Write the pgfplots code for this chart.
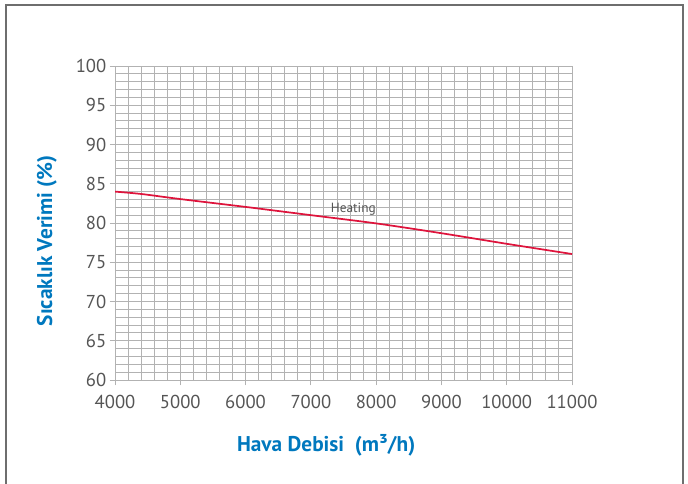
\documentclass[border=0pt]{standalone}
\usepackage{pgfplots}
\pgfplotsset{compat=1.18}
\usepackage{fontspec}
\setmainfont{PT Sans}

\definecolor{gridgray}{RGB}{178,178,178}
\definecolor{ticktext}{RGB}{85,85,85}
\definecolor{labelblue}{RGB}{0,120,190}
\definecolor{curvered}{RGB}{222,20,60}
\definecolor{framegray}{RGB}{110,110,110}

\begin{document}
\begin{tikzpicture}[x=0.75pt,y=-0.75pt]
% whole picture is 688 x 483 px, frame has no visible bottom edge
\useasboundingbox (0,0) rectangle (688,483);
\draw[framegray, line width=0.8pt] (6,495) -- (6,5) -- (683,5) -- (683,495);

\begin{axis}[
  at={(115pt*0.75,-380pt*0.75)}, anchor=south west,
  scale only axis,
  width=342.75pt, height=235.5pt,
  xmin=4000, xmax=11000,
  ymin=60, ymax=100,
  xtick={4000,5000,...,11000},
  ytick={60,65,...,100},
  minor x tick num=4,
  minor y tick num=4,
  grid=both,
  major grid style={gridgray, line width=0.7pt},
  minor grid style={gridgray, line width=0.7pt},
  axis line style={gridgray, line width=0.7pt},
  tick style={gridgray, line width=0.7pt},
  tick align=outside,
  major tick length=4pt,
  minor tick length=0pt,
  xtick pos=bottom, ytick pos=left,
  scaled x ticks=false,
  /pgf/number format/assume math mode=true,
  /pgf/number format/set thousands separator={},
  tick label style={font=\fontsize{14}{16}\selectfont, text=ticktext},
  xticklabel style={yshift=-4pt},
  yticklabel style={xshift=1pt},
  xlabel={Hava Debisi\ \ (m³/h)},
  ylabel={Sıcaklık Verimi (\%)},
  label style={font=\bfseries\fontsize{16}{18}\selectfont, text=labelblue},
  xlabel style={at={(axis description cs:0.462,-0.207)}, anchor=center},
  ylabel style={at={(axis description cs:-0.149,0.443)}, anchor=center},
]
\addplot[curvered, line width=1.3pt, smooth] coordinates {
  (4000,84.0) (4400,83.7) (5000,83.05) (6000,82.05) (7000,81.0)
  (8000,79.95) (9000,78.7) (10000,77.35) (11000,76.05)
};
\node[font=\fontsize{10}{11}\selectfont, text=ticktext] at (axis cs:7650,81.8) {Heating};
\end{axis}
\end{tikzpicture}
\end{document}
